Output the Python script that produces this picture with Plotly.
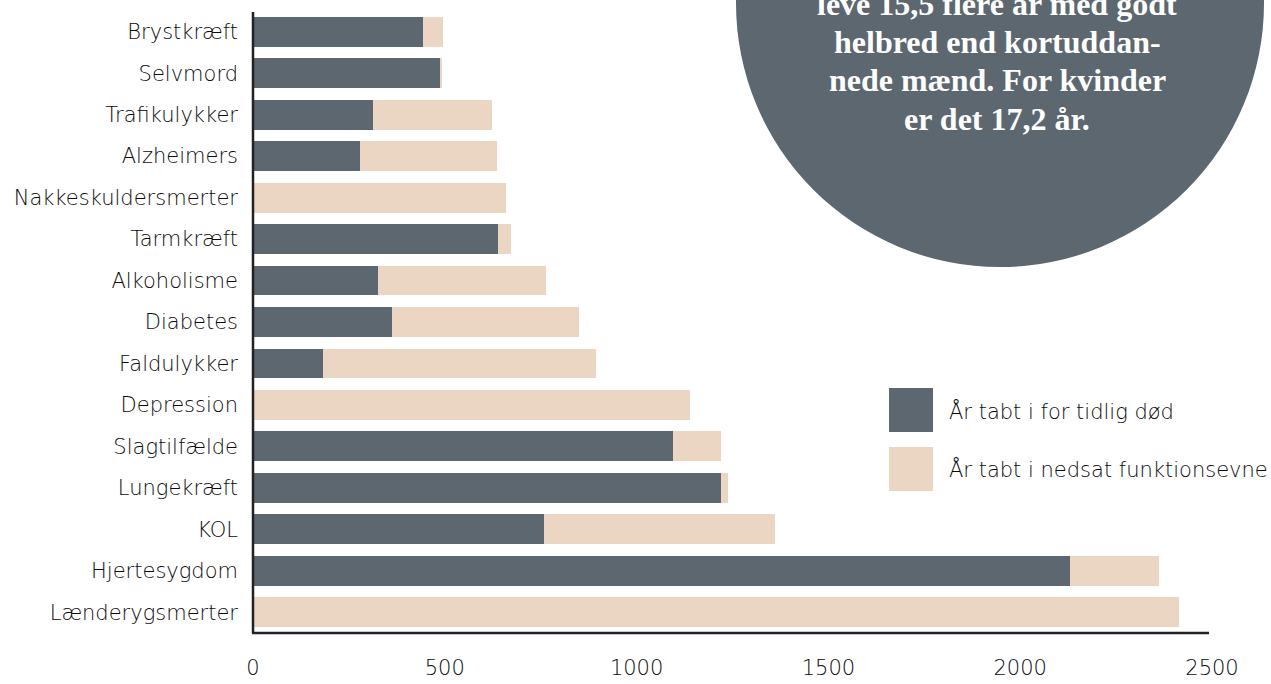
import plotly.graph_objects as go

categories = ["Brystkræft", "Selvmord", "Trafikulykker", "Alzheimers", "Nakkeskuldersmerter",
              "Tarmkræft", "Alkoholisme", "Diabetes", "Faldulykker", "Depression",
              "Slagtilfælde", "Lungekræft", "KOL", "Hjertesygdom", "Lænderygsmerter"]
death_years = [443, 490, 312, 279, 0, 638, 326, 362, 182, 0, 1094, 1221, 758, 2130, 0]
disability_years = [52, 3, 310, 356, 659, 34, 437, 487, 711, 1138, 127, 16, 604, 232, 2414]
series_names = ["År tabt i for tidlig død", "År tabt i nedsat funktionsevne"]
x_ticks = [0, 500, 1000, 1500, 2000, 2500]
circle_lines = ["leve 15,5 flere år med godt",
                "helbred end kortuddan-",
                "nede mænd. For kvinder",
                "er det 17,2 år."]

DARK = "#5c6770"
LIGHT = "#ead6c3"
TEXT = "#0a0a0a"
FONT = "DejaVu Sans"
FW = 200
FS = 21

W, H = 1271, 684
L, R, T, B = 253, 59, 11, 51
pw, ph = W - L - R, H - T - B

def px(x):
    return (x - L) / pw

def py(y):
    return 1 - (y - T) / ph

fig = go.Figure()
fig.add_trace(go.Bar(y=categories, x=death_years, orientation="h", name=series_names[0],
                     marker=dict(color=DARK, line=dict(width=0)), showlegend=False))
fig.add_trace(go.Bar(y=categories, x=disability_years, orientation="h", name=series_names[1],
                     marker=dict(color=LIGHT, line=dict(width=0)), showlegend=False))

shapes = []
# big circle top right
shapes.append(dict(type="circle", xref="paper", yref="paper",
                   x0=px(1000 - 264), x1=px(1000 + 264), y0=py(3 + 264), y1=py(3 - 264),
                   fillcolor=DARK, line=dict(width=0), layer="above"))
# legend squares
shapes.append(dict(type="rect", xref="paper", yref="paper",
                   x0=px(889), x1=px(933), y0=py(432), y1=py(388),
                   fillcolor=DARK, line=dict(width=0)))
shapes.append(dict(type="rect", xref="paper", yref="paper",
                   x0=px(889), x1=px(933), y0=py(491), y1=py(447),
                   fillcolor=LIGHT, line=dict(width=0)))
# axis lines
shapes.append(dict(type="line", xref="paper", yref="paper",
                   x0=px(253), x1=px(253), y0=py(633), y1=py(12),
                   line=dict(color="#222222", width=2.5)))
shapes.append(dict(type="line", xref="paper", yref="paper",
                   x0=px(252), x1=px(1209), y0=py(633), y1=py(633),
                   line=dict(color="#222222", width=2.5)))

annotations = []
line_y = [4, 42, 80, 119]
for txt, yy in zip(circle_lines, line_y):
    annotations.append(dict(text="<b>" + txt + "</b>", xref="paper", yref="paper",
                            x=px(997), y=py(yy), showarrow=False, xanchor="center", yanchor="middle",
                            font=dict(family="Liberation Serif", size=32, color="white")))
annotations.append(dict(text=series_names[0], xref="paper", yref="paper", x=px(947), y=py(411),
                        showarrow=False, xanchor="left", yanchor="middle",
                        font=dict(family=FONT, size=FS, color=TEXT, weight=FW)))
annotations.append(dict(text=series_names[1], xref="paper", yref="paper", x=px(947), y=py(469),
                        showarrow=False, xanchor="left", yanchor="middle",
                        font=dict(family=FONT, size=FS, color=TEXT, weight=FW)))

fig.update_layout(
    width=W, height=H,
    margin=dict(l=L, r=R, t=T, b=B),
    barmode="stack", bargap=0.28,
    plot_bgcolor="white", paper_bgcolor="white",
    font=dict(family=FONT, size=FS, color=TEXT, weight=FW),
    xaxis=dict(range=[0, 2500], tickvals=x_ticks, showgrid=False, zeroline=False,
               showline=False, ticks="", automargin=False,
               tickfont=dict(family=FONT, size=FS, color=TEXT, weight=FW), ticklabelstandoff=20),
    yaxis=dict(autorange="reversed", showgrid=False, zeroline=False, showline=False,
               ticks="", automargin=False,
               tickfont=dict(family=FONT, size=FS, color=TEXT, weight=FW), ticklabelstandoff=14),
    shapes=shapes, annotations=annotations,
)

fig.write_html("out.html", config={"displayModeBar": False},
               post_script="document.body.style.margin='0';document.body.style.overflow='hidden';")
